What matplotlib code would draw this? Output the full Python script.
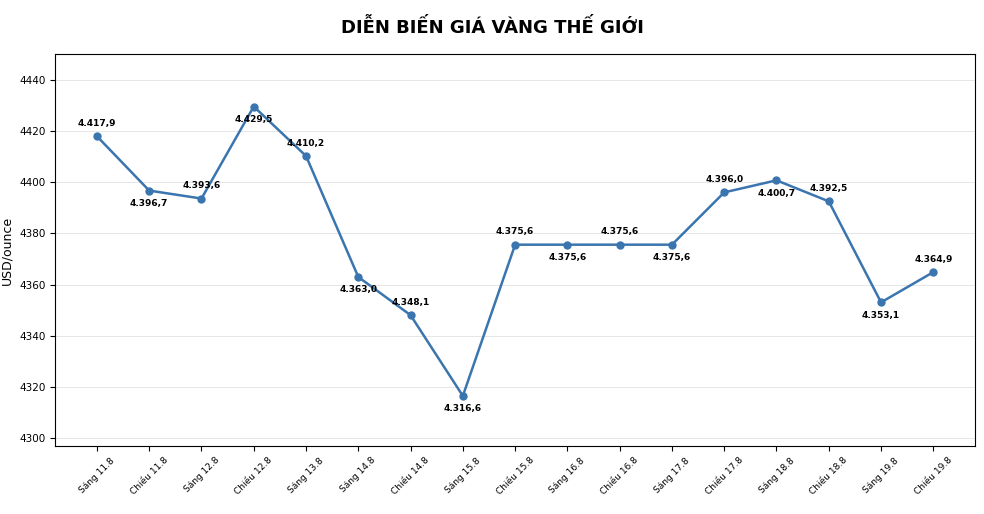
import matplotlib.pyplot as plt

labels = ['Sáng 11.8', 'Chiều 11.8', 'Sáng 12.8', 'Chiều 12.8', 'Sáng 13.8', 'Sáng 14.8',
          'Chiều 14.8', 'Sáng 15.8', 'Chiều 15.8', 'Sáng 16.8', 'Chiều 16.8', 'Sáng 17.8',
          'Chiều 17.8', 'Sáng 18.8', 'Chiều 18.8', 'Sáng 19.8', 'Chiều 19.8']
prices = [4417.9, 4396.7, 4393.6, 4429.5, 4410.2, 4363.0, 4348.1, 4316.6, 4375.6,
          4375.6, 4375.6, 4375.6, 4396.0, 4400.7, 4392.5, 4353.1, 4364.9]

fig = plt.figure(figsize=(9.84, 5.14), dpi=100)
ax = fig.add_axes([0.056, 0.132, 0.935, 0.763])
x = list(range(len(labels)))
ax.plot(x, prices, color='#3b75af', linewidth=1.8, marker='o', markersize=5)

for i, v in enumerate(prices):
    txt = f'{v:,.1f}'.replace(',', 'X').replace('.', ',').replace('X', '.')
    if i % 2 == 0:
        ax.annotate(txt, (i, v), xytext=(0, 6), textcoords='offset points',
                    ha='center', va='bottom', fontsize=6.5, fontweight='bold')
    else:
        ax.annotate(txt, (i, v), xytext=(0, -6), textcoords='offset points',
                    ha='center', va='top', fontsize=6.5, fontweight='bold')

ax.set_xticks(x)
ax.set_xticklabels(labels, rotation=45, fontsize=6.5)
ax.tick_params(axis='y', labelsize=7.5)
ax.set_xlim(-0.8, 16.8)
ax.set_ylim(4297, 4450)
ax.set_yticks(range(4300, 4441, 20))
ax.grid(axis='y', color='#e6e6e6', linewidth=0.7)
ax.set_axisbelow(True)
ax.set_ylabel('USD/ounce', fontsize=9)
fig.suptitle('DIỄN BIẾN GIÁ VÀNG THẾ GIỚI', fontsize=13, fontweight='bold', y=0.965)

fig.savefig('out.png', dpi=100)
